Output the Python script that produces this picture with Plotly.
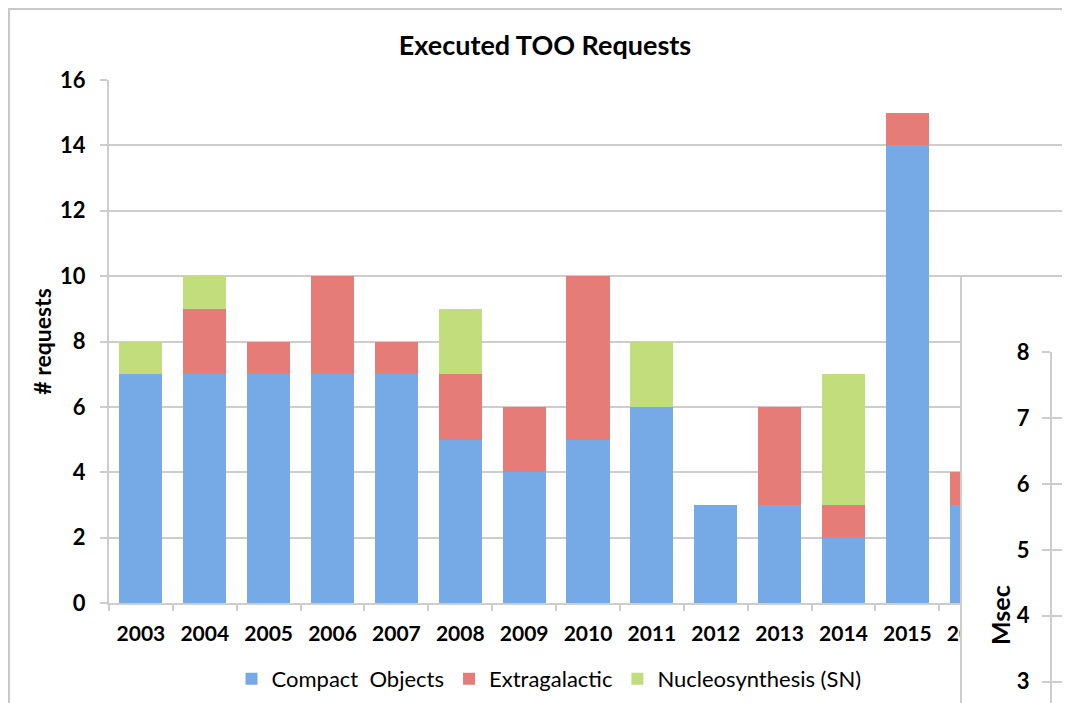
import plotly.graph_objects as go

years = ['2003', '2004', '2005', '2006', '2007', '2008', '2009',
         '2010', '2011', '2012', '2013', '2014', '2015', '2016']
compact = [7, 7, 7, 7, 7, 5, 4, 5, 6, 3, 3, 2, 14, 3]
extragalactic = [0, 2, 1, 3, 1, 2, 2, 5, 0, 0, 3, 1, 1, 1]
nucleo = [1, 1, 0, 0, 0, 2, 0, 0, 2, 0, 0, 4, 0, 0]
msec_ticks = [3, 4, 5, 6, 7, 8]

# page body has an 8px margin, so the figure sits at (8, 8) in the window
OFF = 8
W, H = 1070 - OFF, 703 - OFF


def px(x):
    return (x - OFF) / W


def py(y):
    return 1 - (y - OFF) / H


grid = '#cdcdcd'

fig = go.Figure()
series = [('Compact  Objects', compact, '#76aae6'),
          ('Extragalactic', extragalactic, '#e67c78'),
          ('Nucleosynthesis (SN)', nucleo, '#c1dd7c')]
for name, vals, col in series:
    fig.add_trace(go.Bar(x=years, y=vals, name=name,
                         marker=dict(color=col, line_width=0)))

# the second (cut off) chart lying on top, bottom right
fig.add_trace(go.Scatter(x=[], y=[], xaxis='x2', yaxis='y2', showlegend=False))
fig.add_trace(go.Scatter(x=[], y=[], xaxis='x3', yaxis='y3', showlegend=False))

fig.update_layout(
    width=W, height=H,
    margin=dict(l=0, r=0, t=0, b=0, autoexpand=False),
    barmode='stack', bargap=0.325,
    paper_bgcolor='white', plot_bgcolor='white',
    font=dict(family='Lato', color='black', size=20),
    title=dict(text='Executed TOO Requests', x=px(545), y=py(46),
               xanchor='center', yanchor='middle',
               font=dict(size=27, weight='bold')),
    xaxis=dict(domain=[px(109), px(1067)], range=[-0.5, 14.5], type='category',
               showline=True, linecolor=grid, linewidth=2, showgrid=False,
               ticks='outside', tickson='boundaries', ticklen=6,
               tickcolor=grid, tickwidth=2, ticklabelstandoff=11,
               tickfont=dict(size=21, weight='bold')),
    yaxis=dict(domain=[py(603), py(80)], range=[0, 16], dtick=2,
               showgrid=True, gridcolor=grid, gridwidth=2, zeroline=False,
               showline=True, linecolor=grid, linewidth=2,
               ticks='outside', ticklen=7, tickcolor=grid, tickwidth=2,
               ticklabelstandoff=10,
               tickfont=dict(size=22, weight='bold'),
               title=dict(text='# requests', standoff=2,
                          font=dict(size=23, weight='bold'))),
    xaxis2=dict(domain=[px(962), 1], anchor='y2', range=[0, 1], visible=False),
    yaxis2=dict(domain=[0, py(277)], anchor='x2', range=[0, 1],
                showline=True, linecolor=grid, linewidth=2,
                showgrid=False, zeroline=False, ticks='', showticklabels=False),
    xaxis3=dict(domain=[px(1052), 1], anchor='y3', range=[0, 1], visible=False),
    yaxis3=dict(domain=[0, py(352)], anchor='x3', range=[2.677, 8],
                tickvals=msec_ticks, showgrid=True, gridcolor=grid, gridwidth=2,
                zeroline=False, showline=True, linecolor=grid, linewidth=2,
                ticks='outside', ticklen=8, tickcolor=grid, tickwidth=2,
                ticklabelstandoff=8,
                tickfont=dict(size=22, weight='bold')),
    legend=dict(orientation='h', traceorder='normal', x=px(549), xanchor='center',
                y=py(679), yanchor='middle', font=dict(size=22),
                bgcolor='rgba(0,0,0,0)'),
    annotations=[dict(text='<b>Msec</b>', x=px(1000), y=py(615),
                      xref='paper', yref='paper', showarrow=False,
                      xanchor='center', yanchor='middle',
                      textangle=-90, font=dict(size=25))],
    shapes=[dict(type='rect', xref='paper', yref='paper', layer='below',
                 x0=px(9), x1=px(1080), y0=py(710), y1=py(9),
                 line=dict(color='#c8c8c8', width=2))],
)

fig.write_html('out.html')
